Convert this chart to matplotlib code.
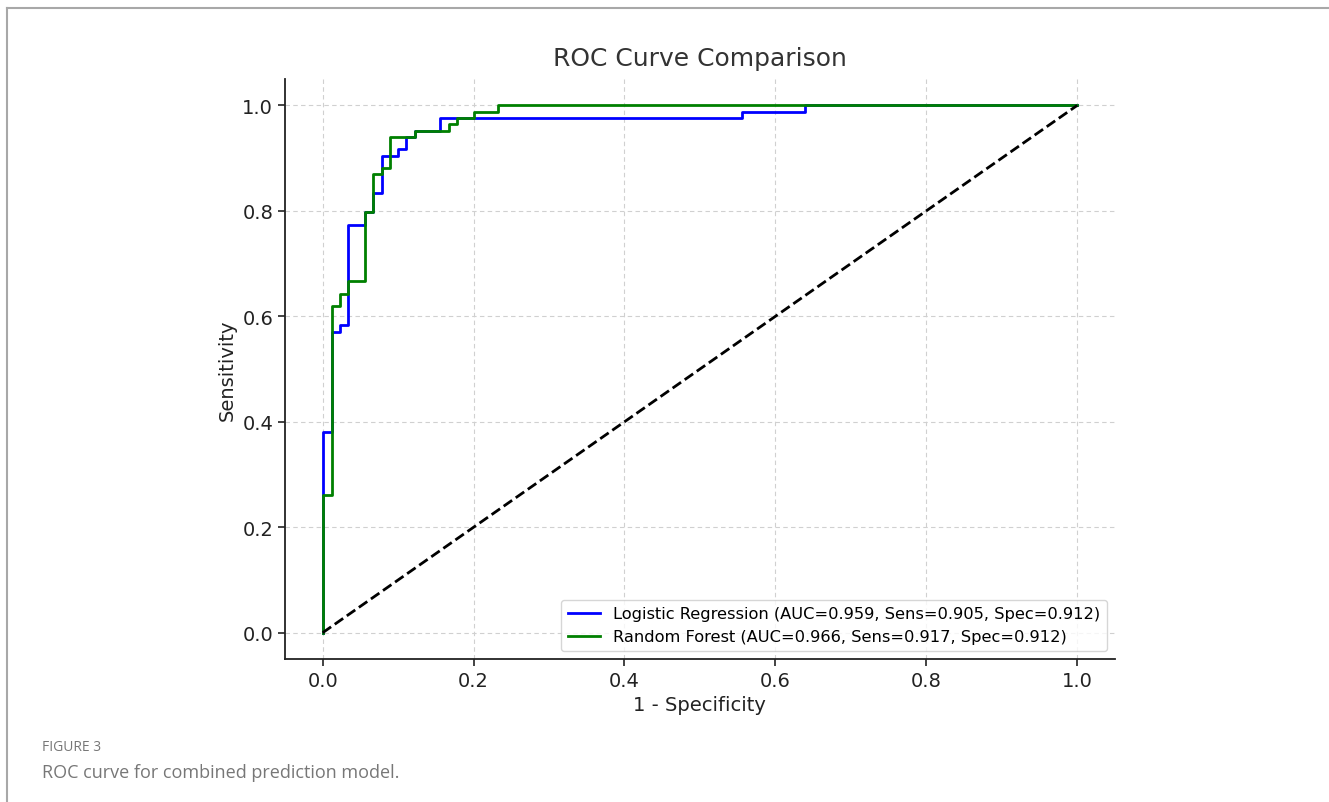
import matplotlib.pyplot as plt

# ROC curve corner points
lr_fpr = [0, 0, 0.012, 0.012, 0.023, 0.023, 0.034, 0.034, 0.056, 0.056, 0.067, 0.067,
          0.078, 0.078, 0.1, 0.1, 0.111, 0.111, 0.122, 0.122, 0.156, 0.156,
          0.556, 0.556, 0.639, 0.639, 1.0]
lr_tpr = [0, 0.381, 0.381, 0.571, 0.571, 0.583, 0.583, 0.774, 0.774, 0.798, 0.798, 0.833,
          0.833, 0.905, 0.905, 0.917, 0.917, 0.94, 0.94, 0.952, 0.952, 0.976,
          0.976, 0.988, 0.988, 1.0, 1.0]

rf_fpr = [0, 0, 0.012, 0.012, 0.023, 0.023, 0.034, 0.034, 0.056, 0.056, 0.067, 0.067,
          0.078, 0.078, 0.089, 0.089, 0.122, 0.122, 0.167, 0.167, 0.178, 0.178,
          0.2, 0.2, 0.233, 0.233, 1.0]
rf_tpr = [0, 0.262, 0.262, 0.619, 0.619, 0.643, 0.643, 0.667, 0.667, 0.798, 0.798, 0.869,
          0.869, 0.881, 0.881, 0.94, 0.94, 0.952, 0.952, 0.964, 0.964, 0.976,
          0.976, 0.988, 0.988, 1.0, 1.0]

lr_label = "Logistic Regression (AUC=0.959, Sens=0.905, Spec=0.912)"
rf_label = "Random Forest (AUC=0.966, Sens=0.917, Spec=0.912)"

fig = plt.figure(figsize=(13.29, 8.03), dpi=100)

# page frame lines of the journal figure
fig.add_artist(plt.Line2D([0.0053, 0.0053], [0, 0.989], color='#a8a8a8', lw=1.5))
fig.add_artist(plt.Line2D([0.0053, 1], [0.989, 0.989], color='#a8a8a8', lw=1.5))

ax = fig.add_axes([0.2144, 0.178, 0.6245, 0.7223])
ax.plot(lr_fpr, lr_tpr, color='blue', lw=2, label=lr_label)
ax.plot(rf_fpr, rf_tpr, color='green', lw=2, label=rf_label)
ax.plot([0, 1], [0, 1], 'k--', lw=2)

ax.set_xlim(-0.05, 1.05)
ax.set_ylim(-0.05, 1.05)
ax.set_title("ROC Curve Comparison", fontsize=18, color='#333333', pad=10)
ax.set_xlabel("1 - Specificity", fontsize=14, color='#222222')
ax.set_ylabel("Sensitivity", fontsize=14, color='#222222')
ax.tick_params(labelsize=14, colors='#222222', length=5, width=1.2)
ax.grid(True, linestyle=(0, (4, 3)), color='#d0d0d0', lw=0.8)
ax.spines['top'].set_visible(False)
ax.spines['right'].set_visible(False)
for s in ['left', 'bottom']:
    ax.spines[s].set_linewidth(1.3)
    ax.spines[s].set_color('#222222')
ax.legend(loc='lower right', fontsize=11.7)

fig.text(0.0316, 0.0697, "FIGURE 3", fontsize=10, color='#777777',
         family='Open Sans', va='center')
fig.text(0.0316, 0.0374, "ROC curve for combined prediction model.", fontsize=13,
         color='#777777', family='Open Sans', va='center')

fig.savefig("out.png", dpi=100)
